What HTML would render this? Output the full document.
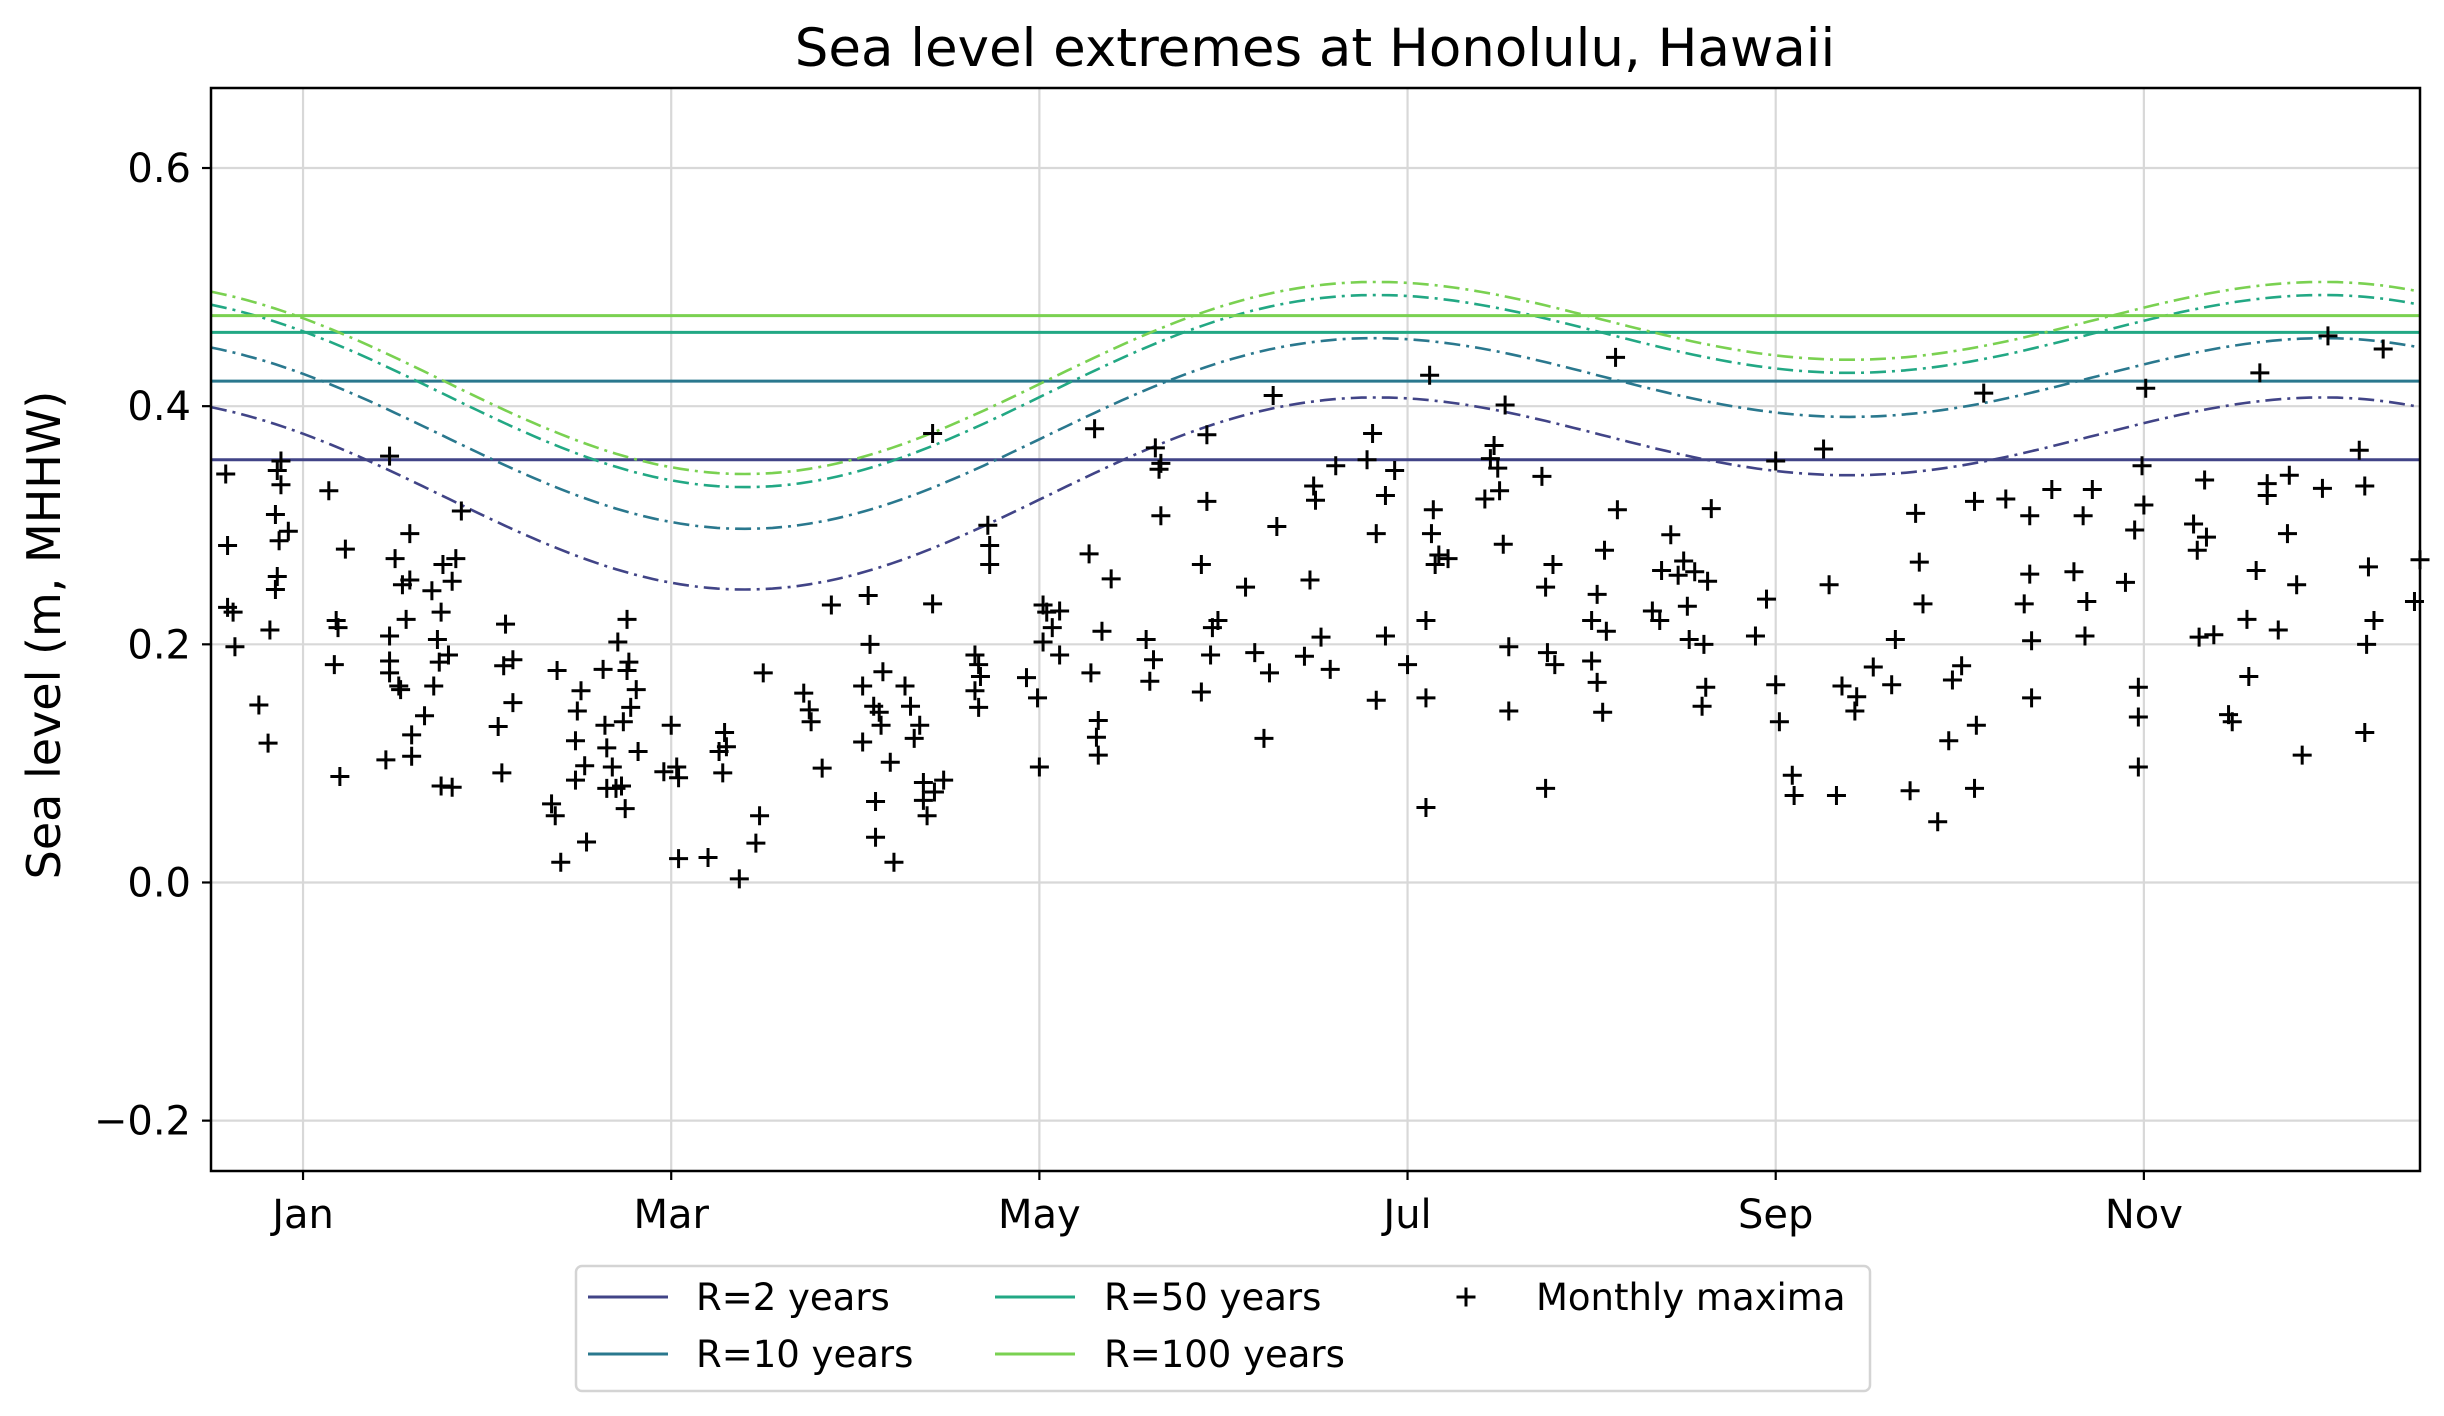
<!DOCTYPE html>
<html><head><meta charset="utf-8"><title>Sea level extremes at Honolulu, Hawaii</title>
<style>
html,body{margin:0;padding:0;background:#fff;}
svg{display:block;font-family:"DejaVu Sans","Liberation Sans",sans-serif;}
</style></head>
<body>
<svg id="chart" width="2444" height="1416" viewBox="0 0 2444 1416" xmlns="http://www.w3.org/2000/svg">
<rect x="0" y="0" width="2444" height="1416" fill="#fff"/>
<g id="grid"></g>
<g id="series"></g>
<g id="points"></g>
<rect x="211" y="88" width="2209" height="1083" fill="none" stroke="#000" stroke-width="2.5"/>
<g id="axes"></g>
<text x="1315" y="66" text-anchor="middle" font-size="53" fill="#000">Sea level extremes at Honolulu, Hawaii</text>
<text transform="translate(60,635) rotate(-90)" text-anchor="middle" font-size="46" fill="#000">Sea level (m, MHHW)</text>
<g id="legend">
<rect x="576" y="1266" width="1294" height="125" rx="6" fill="#fff" stroke="#d4d4d4" stroke-width="2.5"/>
</g>
</svg>
<script>
// ---- data ----
const monthLabels = ["Jan","Mar","May","Jul","Sep","Nov"];
const monthTicks = [0,2,4,6,8,10];
const yTicks = [-0.2,0.0,0.2,0.4,0.6];
const yTickLabels = ["\u22120.2","0.0","0.2","0.4","0.6"];
const seriesNames = ["R=2 years","R=10 years","R=50 years","R=100 years"];
const seriesColors = ["#414487","#2a788e","#22a884","#7ad151"];
const stationaryLevel = [0.355,0.421,0.462,0.476];
const meanLevel = [0.348,0.398,0.434,0.445];
const annualAmp = [0.048,0.047,0.048,0.048];
const semiAmp = [0.054,0.054,0.054,0.054];
const annualPeakMonth = [8.4];
const semiPeakMonth = [5.4];
const ptMonth = [-0.42,-0.41,-0.41,-0.38,-0.37,-0.24,-0.19,-0.18,-0.15,-0.15,-0.14,-0.14,-0.13,-0.12,-0.12,-0.08,
0.14,0.17,0.18,0.19,0.20,0.23,0.47,0.45,0.47,0.47,0.50,0.47,0.52,0.53,0.54,0.56,0.58,0.59,0.59,0.58,0.66,0.70,0.71,0.73,0.75,0.74,0.75,0.81,0.76,0.79,0.81,0.83,0.86,
1.06,1.08,1.09,1.10,1.14,1.14,1.35,1.37,1.38,1.40,1.48,1.48,1.49,1.51,1.53,1.54,1.63,1.64,1.65,1.65,1.68,1.70,1.71,1.73,1.74,1.75,1.76,1.78,1.77,1.76,1.81,1.82,1.96,2.00,
2.03,2.04,2.04,2.20,2.26,2.28,2.29,2.30,2.37,2.46,2.48,2.50,
2.72,2.75,2.76,2.82,2.87,3.04,3.04,3.07,3.08,3.10,3.11,3.11,3.13,3.14,3.15,3.19,3.21,3.27,3.30,3.32,3.35,3.37,3.37,3.39,3.42,3.42,3.43,3.48,3.65,3.65,3.67,3.68,3.72,3.73,3.73,3.67,
3.93,3.99,4.00,4.02,4.02,4.04,4.07,4.11,4.11,4.27,4.30,4.28,4.31,4.32,4.32,4.34,4.39,4.58,4.60,4.62,4.63,4.65,4.66,4.66,
4.88,4.91,4.88,4.91,4.93,4.94,4.97,5.12,5.17,5.22,5.25,5.29,5.27,5.44,5.47,5.49,5.50,5.53,5.58,5.61,
5.78,5.81,5.83,5.83,5.88,5.88,5.93,6.00,6.10,6.10,6.10,6.12,6.13,6.14,6.15,6.17,6.22,6.42,6.45,6.47,6.49,6.50,6.52,6.53,6.55,6.55,
6.73,6.75,6.76,6.75,6.79,6.80,7.00,7.00,7.03,7.03,7.06,7.07,7.08,7.13,7.14,7.33,7.37,7.38,7.43,7.47,7.52,7.50,7.53,7.56,7.60,7.61,7.62,7.63,7.65,
7.89,7.95,8.00,8.02,8.00,8.09,8.10,8.26,8.29,8.33,8.36,8.43,8.44,8.53,8.63,8.65,8.76,
8.78,8.80,8.96,9.01,8.94,8.88,8.73,9.09,9.08,9.08,9.13,9.35,9.38,9.38,9.39,9.39,9.25,9.50,9.62,9.67,9.68,9.69,9.72,
9.90,9.95,9.97,9.97,9.97,9.99,10.00,10.01,10.27,10.29,10.30,10.33,10.34,10.38,10.48,10.46,10.56,10.57,10.61,10.63,10.67,10.67,10.73,10.78,10.79,10.83,10.86,11.00,10.97,
11.17,11.20,11.22,11.20,11.21,11.25,11.30,11.47,11.50];
const ptLevel = [0.343,0.283,0.231,0.227,0.198,0.149,0.117,0.212,0.309,0.246,0.346,0.257,0.287,0.354,0.334,0.295,
0.329,0.183,0.220,0.214,0.089,0.280,0.358,0.103,0.207,0.186,0.272,0.176,0.165,0.162,0.250,0.221,0.293,0.124,0.106,0.254,0.140,0.245,0.165,0.204,0.227,0.185,0.081,0.080,0.267,0.191,0.253,0.272,0.312,
0.131,0.092,0.182,0.217,0.187,0.151,0.066,0.056,0.178,0.017,0.119,0.086,0.144,0.161,0.098,0.034,0.179,0.132,0.079,0.113,0.097,0.079,0.202,0.081,0.135,0.062,0.178,0.147,0.185,0.221,0.162,0.110,0.093,0.132,
0.097,0.088,0.020,0.021,0.110,0.092,0.126,0.114,0.003,0.033,0.056,0.176,
0.159,0.145,0.135,0.096,0.233,0.165,0.118,0.241,0.200,0.148,0.038,0.068,0.143,0.132,0.177,0.101,0.017,0.165,0.148,0.121,0.132,0.084,0.069,0.056,0.234,0.377,0.076,0.086,0.191,0.161,0.183,0.173,0.300,0.283,0.267,0.147,
0.172,0.155,0.097,0.202,0.233,0.227,0.214,0.228,0.191,0.276,0.381,0.176,0.122,0.136,0.107,0.211,0.255,0.204,0.169,0.187,0.365,0.347,0.352,0.308,
0.160,0.376,0.267,0.320,0.191,0.214,0.220,0.248,0.193,0.121,0.176,0.299,0.409,0.190,0.254,0.333,0.321,0.206,0.179,0.350,
0.355,0.377,0.293,0.153,0.325,0.207,0.346,0.183,0.155,0.220,0.063,0.426,0.293,0.313,0.267,0.275,0.272,0.322,0.356,0.367,0.348,0.329,0.284,0.401,0.144,0.198,
0.341,0.079,0.193,0.248,0.267,0.183,0.220,0.186,0.168,0.242,0.143,0.279,0.211,0.441,0.313,0.228,0.220,0.262,0.292,0.258,0.232,0.270,0.204,0.261,0.148,0.200,0.164,0.253,0.314,
0.207,0.238,0.166,0.135,0.354,0.090,0.073,0.364,0.250,0.073,0.165,0.144,0.156,0.181,0.166,0.204,0.310,
0.269,0.234,0.170,0.182,0.119,0.051,0.077,0.132,0.079,0.320,0.411,0.234,0.308,0.259,0.203,0.155,0.322,0.330,0.261,0.308,0.207,0.236,0.330,
0.252,0.296,0.139,0.097,0.164,0.350,0.317,0.415,0.301,0.279,0.206,0.338,0.290,0.208,0.135,0.141,0.221,0.173,0.262,0.428,0.335,0.325,0.212,0.293,0.342,0.250,0.107,0.459,0.331,
0.363,0.333,0.265,0.126,0.200,0.220,0.448,0.236,0.271];

// ---- axes ----
const PL=211, PR=2420, PT=88, PB=1171;
const XMIN=-0.5, XMAX=11.5, YMIN=-0.2423, YMAX=0.6672;
function xs(m){return PL+(m-XMIN)/(XMAX-XMIN)*(PR-PL);}
function ys(v){return PB-(v-YMIN)/(YMAX-YMIN)*(PB-PT);}
const NS="http://www.w3.org/2000/svg";
function mk(tag,attrs,parent){const e=document.createElementNS(NS,tag);for(const k in attrs)e.setAttribute(k,attrs[k]);parent.appendChild(e);return e;}
const grid=document.getElementById('grid'), axes=document.getElementById('axes');
const series=document.getElementById('series'), pts=document.getElementById('points'), legend=document.getElementById('legend');

monthTicks.forEach((m,i)=>{
  const x=xs(m);
  const g=mk('line',{x1:x,x2:x,y1:PT,y2:PB,stroke:'#d8d8d8','stroke-width':2.2},grid);
  
  
  const t=mk('line',{x1:x,x2:x,y1:PB,y2:PB+9,stroke:'#000','stroke-width':2.2},axes);
  
  
  const l=mk('text',{x:x,y:PB+57,'text-anchor':'middle','font-size':40,fill:'#000'},axes);
  l.textContent=monthLabels[i];
  
  
});
yTicks.forEach((v,i)=>{
  const y=ys(v);
  const g=mk('line',{x1:PL,x2:PR,y1:y,y2:y,stroke:'#d8d8d8','stroke-width':2.2},grid);
  
  
  const t=mk('line',{x1:PL-9,x2:PL,y1:y,y2:y,stroke:'#000','stroke-width':2.2},axes);
  
  
  const l=mk('text',{x:PL-20,y:y+14,'text-anchor':'end','font-size':40,fill:'#000'},axes);
  l.textContent=yTickLabels[i];
  
  
});

// ---- series ----
function level(i,m){
  return meanLevel[i]+annualAmp[i]*Math.cos(2*Math.PI*(m-annualPeakMonth[0])/12)+semiAmp[i]*Math.cos(2*Math.PI*(m-semiPeakMonth[0])/6);
}
seriesNames.forEach((name,i)=>{
  const y=ys(stationaryLevel[i]);
  const h=mk('line',{x1:PL,x2:PR,y1:y,y2:y,stroke:seriesColors[i],'stroke-width':3},series);
  
  
  let d='';
  for(let k=0;k<=240;k++){const m=XMIN+(XMAX-XMIN)*k/240;d+=(k?'L':'M')+xs(m).toFixed(1)+' '+ys(level(i,m)).toFixed(1);}
  const p=mk('path',{d:d,fill:'none',stroke:seriesColors[i],'stroke-width':2.6,'stroke-dasharray':'16 6 3 6'},series);
  
  
});

// ---- points ----
function plus(cx,cy,parent,s){
  return mk('path',{d:`M${cx-s} ${cy}H${cx+s}M${cx} ${cy-s}V${cy+s}`,stroke:'#000','stroke-width':3,fill:'none'},parent);
}
ptMonth.forEach((m,i)=>{
  const p=plus(xs(m),ys(ptLevel[i]),pts,9.5);
  
  
});

// ---- legend ----
const legX=[588,995], legTX=[696,1104], legY=[1297,1354];
seriesNames.forEach((name,i)=>{
  const col=Math.floor(i/2), row=i%2;
  const l=mk('line',{x1:legX[col],x2:legX[col]+80,y1:legY[row],y2:legY[row],stroke:seriesColors[i],'stroke-width':3},legend);
  
  
  const t=mk('text',{x:legTX[col],y:legY[row]+13,'font-size':37,fill:'#000'},legend);
  t.textContent=name;
  
  
});
const lm=plus(1466,1297,legend,9.5);


const lt=mk('text',{x:1536,y:1310,'font-size':37,fill:'#000'},legend);
lt.textContent='Monthly maxima';


</script>
</body></html>
